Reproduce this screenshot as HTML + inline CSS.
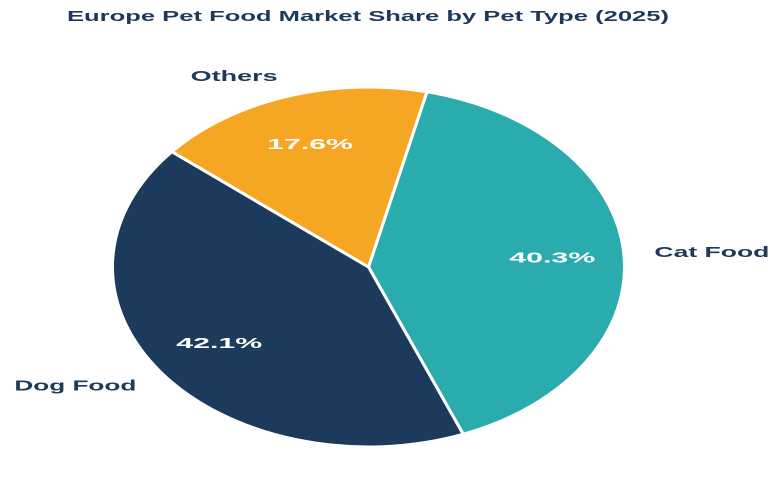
<!DOCTYPE html>
<html>
<head>
<meta charset="utf-8">
<style>
  html,body{margin:0;padding:0;background:#ffffff;}
  svg{display:block;font-family:"Liberation Sans",sans-serif;font-weight:bold;}
</style>
</head>
<body>
<svg id="chart" width="781" height="503" viewBox="0 0 781 503" xmlns="http://www.w3.org/2000/svg">
  <text x="67" y="21" font-size="15" fill="#1b3a5c" textLength="602" lengthAdjust="spacingAndGlyphs">Europe Pet Food Market Share by Pet Type (2025)</text>
  <g id="slices"></g>
  <g id="labels"></g>
</svg>
<script>
const categories = ["Cat Food", "Dog Food", "Others"];
const shares = [40.3, 42.1, 17.6];
const colors = ["#2aacae", "#1b3a5c", "#f5a623"];
const labelWidths = [115, 122, 87];

const cx = 368.5, cy = 267, rx = 256, ry = 180;
const startDeg = 13.2;
const svgNS = "http://www.w3.org/2000/svg";
const slicesG = document.getElementById("slices");
const labelsG = document.getElementById("labels");
const total = shares.reduce((a, b) => a + b, 0);

function pt(deg, f) {
  const a = deg * Math.PI / 180;
  return [cx + rx * f * Math.sin(a), cy - ry * f * Math.cos(a)];
}

let cur = startDeg;
shares.forEach((v, i) => {
  const sweep = v / total * 360;
  const s = pt(cur, 1), e = pt(cur + sweep, 1);
  const large = sweep > 180 ? 1 : 0;
  const path = document.createElementNS(svgNS, "path");
  path.setAttribute("d", `M${cx},${cy} L${s[0]},${s[1]} A${rx},${ry} 0 ${large} 1 ${e[0]},${e[1]} Z`);
  path.setAttribute("fill", colors[i]);
  path.setAttribute("stroke", "#ffffff");
  path.setAttribute("stroke-width", "3");
  path.setAttribute("stroke-linejoin", "round");
  
  
  slicesG.appendChild(path);

  const mid = cur + sweep / 2;
  const pp = pt(mid, 0.72);
  const pct = document.createElementNS(svgNS, "text");
  pct.textContent = v.toFixed(1) + "%";
  pct.setAttribute("x", pp[0]);
  pct.setAttribute("y", pp[1] + 5);
  pct.setAttribute("text-anchor", "middle");
  pct.setAttribute("font-size", "15");
  pct.setAttribute("fill", "#ffffff");
  pct.setAttribute("textLength", "86");
  pct.setAttribute("lengthAdjust", "spacingAndGlyphs");
  
  
  labelsG.appendChild(pct);

  const lp = pt(mid, 1.12);
  const sinv = Math.sin(mid * Math.PI / 180);
  const lab = document.createElementNS(svgNS, "text");
  lab.textContent = categories[i];
  lab.setAttribute("x", lp[0]);
  lab.setAttribute("y", lp[1] + 5);
  lab.setAttribute("text-anchor", sinv > 0.1 ? "start" : (sinv < -0.1 ? "end" : "middle"));
  lab.setAttribute("font-size", "15");
  lab.setAttribute("fill", "#1b3a5c");
  lab.setAttribute("textLength", labelWidths[i]);
  lab.setAttribute("lengthAdjust", "spacingAndGlyphs");
  
  
  labelsG.appendChild(lab);

  cur += sweep;
});
</script>
</body>
</html>
